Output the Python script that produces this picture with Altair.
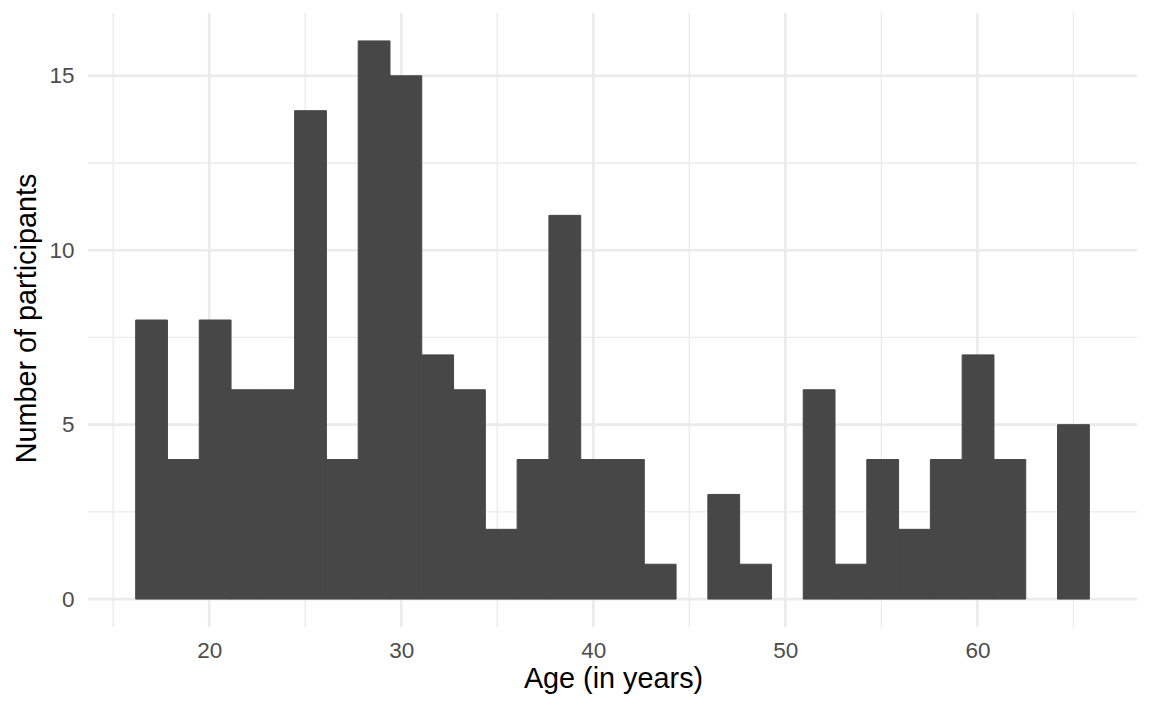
import altair as alt
import numpy as np
import pandas as pd

# Histogram counts (30 bins, ages 17..65)
counts = [8, 4, 8, 6, 6, 14, 4, 16, 15, 7, 6, 2, 4, 11, 4, 4, 1, 0, 3, 1, 0, 6, 1, 4, 2, 4, 7, 4, 0, 5]
age_min, age_max, n_bins = 17, 65, 30
x_major = [20, 30, 40, 50, 60]
x_minor = [15, 25, 35, 45, 55, 65]
y_major = [0, 5, 10, 15]
y_minor = [2.5, 7.5, 12.5]

w = (age_max - age_min) / (n_bins - 1)
edges = age_min - w / 2 + w * np.arange(n_bins + 1)
bars = pd.DataFrame({"start": edges[:-1], "end": edges[1:], "count": counts})

lo, hi = edges[0], edges[-1]
pad = (hi - lo) * 0.05
xdom = [lo - pad, hi + pad]
ydom = [-0.8, 16.8]

xs = alt.Scale(domain=xdom, nice=False, zero=False)
ys = alt.Scale(domain=ydom, nice=False, zero=False)

GRID = "#EBEBEB"
FONT = "Liberation Sans"

xaxis = alt.Axis(values=x_major, grid=False, domain=False, ticks=False, tickSize=0,
                 labelPadding=30, labelBaseline="alphabetic", labelFontSize=22.5,
                 labelColor="#4D4D4D", labelFont=FONT,
                 title="Age (in years)", titleFont=FONT, titleFontSize=28.8,
                 titleFontWeight="normal", titleColor="#000000",
                 titleX=525, titleY=60, titleBaseline="alphabetic", titleAlign="center")
yaxis = alt.Axis(values=y_major, grid=False, domain=False, ticks=False, tickSize=0,
                 labelPadding=14, labelFontSize=22.5, labelColor="#4D4D4D",
                 labelFont=FONT, labelBaseline="middle",
                 title="Number of participants", titleFont=FONT, titleFontSize=28.8,
                 titleFontWeight="normal", titleColor="#000000",
                 titleX=-53, titleY=305, titleBaseline="alphabetic",
                 titleAngle=270, titleAlign="center")

vmin = alt.Chart(pd.DataFrame({"v": x_minor})).mark_rule(color=GRID, strokeWidth=1.3).encode(
    x=alt.X("v:Q", scale=xs, axis=xaxis))
vmaj = alt.Chart(pd.DataFrame({"v": x_major})).mark_rule(color=GRID, strokeWidth=2.6).encode(
    x=alt.X("v:Q", scale=xs, axis=xaxis))
hmin = alt.Chart(pd.DataFrame({"v": y_minor})).mark_rule(color=GRID, strokeWidth=1.3).encode(
    y=alt.Y("v:Q", scale=ys, axis=yaxis))
hmaj = alt.Chart(pd.DataFrame({"v": y_major})).mark_rule(color=GRID, strokeWidth=2.6).encode(
    y=alt.Y("v:Q", scale=ys, axis=yaxis))

rects = alt.Chart(bars).transform_filter("datum.count > 0").mark_rect(
    color="#474747", stroke="#474747", strokeWidth=1).encode(
    x=alt.X("start:Q", scale=xs, axis=xaxis),
    x2="end:Q",
    y=alt.Y("count:Q", scale=ys, axis=yaxis),
    y2=alt.datum(0),
)

chart = alt.layer(vmin, vmaj, hmin, hmaj, rects).properties(
    width=1049, height=614,
    background="white",
    autosize=alt.AutoSizeParams(type="none"),
    padding={"left": 80, "top": 5, "right": 7, "bottom": 76},
).configure_view(strokeWidth=0, stroke="transparent")

chart.save("out.html", embed_options={"renderer": "svg", "actions": False})
